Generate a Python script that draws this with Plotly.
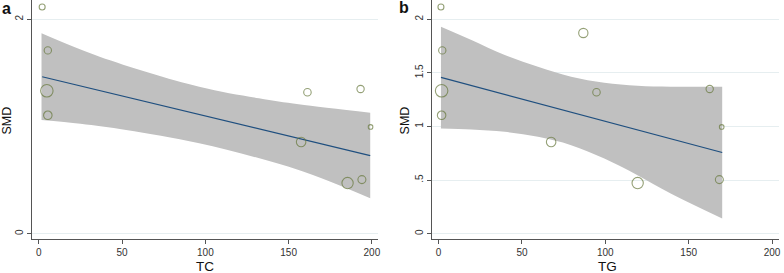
import plotly.graph_objects as go

# ---- data ----
smd = [2.115, 1.71, 1.333, 1.105, 1.872, 1.32, 1.35, 0.996, 0.856, 0.473, 0.505]
weight = [6, 7.3, 12.5, 8.5, 9.3, 7.5, 7.3, 4.6, 9.5, 11.3, 8]
tc = [2.0, 5.4, 4.8, 5.4, None, 161.3, 193.2, 199.2, 157.5, 185.4, 194.0]
tg = [1.4, 2.2, 1.8, 1.8, 86.8, 94.7, 162.6, 169.8, 67.5, 119.4, 168.4]

# fitted line end points
tc_fit_x = [2.0, 199.0]
tc_fit_y = [1.464, 0.729]
tg_fit_x = [1.4, 170.1]
tg_fit_y = [1.458, 0.758]

# confidence band edges
tc_up_x = [1.6, 36.5, 96.3, 132.2, 156.0, 199.0]
tc_up_y = [1.869, 1.651, 1.371, 1.263, 1.207, 1.129]
tc_lo_x = [1.6, 25.0, 52.4, 96.3, 156.0, 199.0]
tc_lo_y = [1.061, 1.025, 0.967, 0.843, 0.594, 0.330]

tg_up_x = [1.4, 19.7, 39.7, 59.6, 79.5, 99.4, 119.3, 139.2, 170.1]
tg_up_y = [1.931, 1.807, 1.667, 1.557, 1.464, 1.408, 1.380, 1.371, 1.371]
tg_lo_x = [1.4, 19.7, 39.7, 59.6, 79.5, 99.4, 119.3, 139.2, 170.1]
tg_lo_y = [0.982, 0.973, 0.951, 0.904, 0.826, 0.702, 0.546, 0.375, 0.142]

x_ticks = [0, 50, 100, 150, 200]
left_y_ticks = [0, 2]
left_y_text = ["0", "2"]
right_y_ticks = [0, 0.5, 1, 1.5, 2]
right_y_text = ["0", ".5", "1", "1.5", "2"]

BAND = "#c0c0c0"
LINE = "#1f4f7f"
MARK = "#66773c"
AX = "#555555"
GRID = "#e6eef0"
FONT = "Liberation Sans, Arial, sans-serif"

fig = go.Figure()


def add_panel(xs, up_x, up_y, lo_x, lo_y, fx, fy, xa, ya):
    fig.add_trace(go.Scatter(x=lo_x, y=lo_y, mode="lines", line=dict(width=0, shape="spline", color=BAND),
                             xaxis=xa, yaxis=ya, hoverinfo="skip", showlegend=False))
    fig.add_trace(go.Scatter(x=up_x, y=up_y, mode="lines", line=dict(width=0, shape="spline", color=BAND),
                             fill="tonexty", fillcolor=BAND,
                             xaxis=xa, yaxis=ya, hoverinfo="skip", showlegend=False))
    fig.add_trace(go.Scatter(x=fx, y=fy, mode="lines", line=dict(width=1.2, color=LINE),
                             xaxis=xa, yaxis=ya, showlegend=False))
    px = [x for x in xs if x is not None]
    py = [s for x, s in zip(xs, smd) if x is not None]
    pw = [w for x, w in zip(xs, weight) if x is not None]
    fig.add_trace(go.Scatter(x=px, y=py, mode="markers",
                             marker=dict(symbol="circle-open", size=pw, color=MARK, line=dict(width=1.1, color=MARK)),
                             xaxis=xa, yaxis=ya, showlegend=False))


add_panel(tc, tc_up_x, tc_up_y, tc_lo_x, tc_lo_y, tc_fit_x, tc_fit_y, "x", "y")
add_panel(tg, tg_up_x, tg_up_y, tg_lo_x, tg_lo_y, tg_fit_x, tg_fit_y, "x2", "y2")

common_x = dict(tickvals=x_ticks, ticks="outside", ticklen=4, tickcolor=AX, showline=True, linecolor=AX,
                linewidth=1, showgrid=False, zeroline=False, tickfont=dict(size=10, color="#333", family=FONT))
common_y = dict(ticks="outside", ticklen=4, tickcolor=AX, showline=True, linecolor=AX, linewidth=1,
                showgrid=True, gridcolor=GRID, gridwidth=1, zeroline=False, tickangle=-90,
                tickfont=dict(size=10, color="#333", family=FONT))

y_dom = [34 / 273, 1.0]
fig.update_layout(
    width=784, height=273,
    margin=dict(l=0, r=0, t=0, b=0),
    paper_bgcolor="white", plot_bgcolor="white",
    font=dict(family=FONT, color="#222"),
    xaxis=dict(domain=[32.3 / 784, 379 / 784], range=[-4.0, 203.4], anchor="y", **common_x),
    yaxis=dict(domain=y_dom, range=[-0.049, 2.18], tickvals=left_y_ticks, ticktext=left_y_text,
               anchor="x", **common_y),
    xaxis2=dict(domain=[434 / 784, 781.7 / 784], range=[-3.76, 204.0], anchor="y2", **common_x),
    yaxis2=dict(domain=y_dom, range=[-0.049, 2.18], tickvals=right_y_ticks, ticktext=right_y_text,
                anchor="x2", **common_y),
)

ann = [
    dict(text="TC", x=205.5 / 784, y=(273 - 266.3) / 273, size=13.5, angle=0),
    dict(text="TG", x=610 / 784, y=(273 - 266.3) / 273, size=13.5, angle=0),
    dict(text="SMD", x=7.5 / 784, y=(273 - 120) / 273, size=12.5, angle=-90),
    dict(text="SMD", x=407 / 784, y=(273 - 120) / 273, size=12.5, angle=-90),
    dict(text="<b>a</b>", x=6.5 / 784, y=(273 - 8.5) / 273, size=16, angle=0),
    dict(text="<b>b</b>", x=405.5 / 784, y=(273 - 7.7) / 273, size=16, angle=0),
]
for a in ann:
    fig.add_annotation(text=a["text"], x=a["x"], y=a["y"], xref="paper", yref="paper",
                       xanchor="center", yanchor="middle", showarrow=False, textangle=a["angle"],
                       font=dict(size=a["size"], family=FONT, color="#111"))

fig.write_html("out.html", config={"displayModeBar": False},
               post_script="document.body.style.margin='0';document.body.style.overflow='hidden';")
